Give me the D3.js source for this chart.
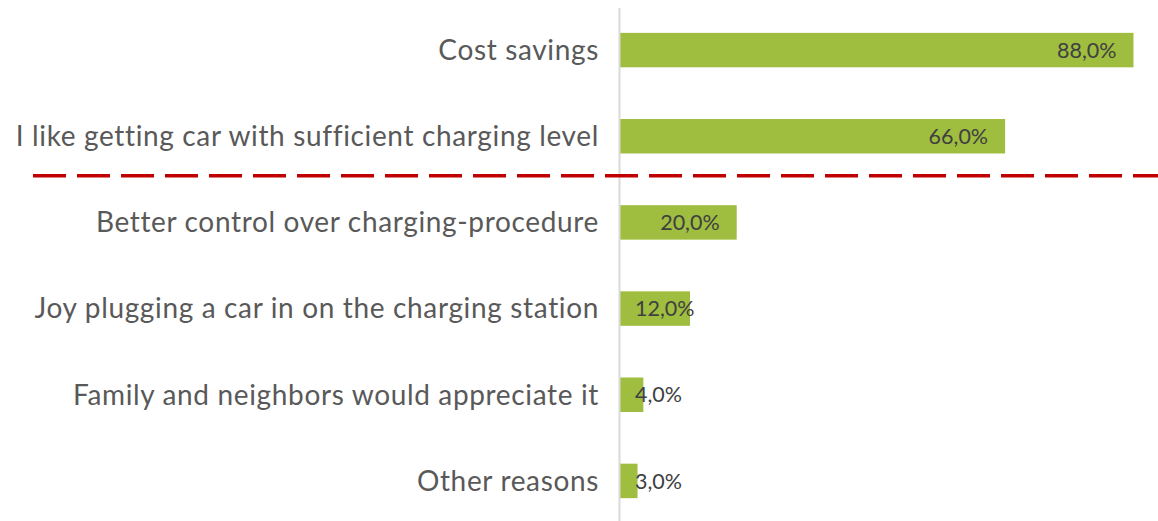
<!DOCTYPE html>
<html>
<head>
<meta charset="utf-8">
<script src="https://cdn.jsdelivr.net/npm/d3@7"></script>
<style>
  html, body { margin: 0; padding: 0; background: #fff; }
  svg { display: block; }
  text { font-variant-ligatures: none; }
</style>
</head>
<body>
<svg id="chart" width="1158" height="521"></svg>
<script>
const categories = [
  "Cost savings",
  "I like getting car with sufficient charging level",
  "Better control over charging-procedure",
  "Joy plugging a car in on the charging station",
  "Family and neighbors would appreciate it",
  "Other reasons"
]
const values = [88, 66, 20, 12, 4, 3]
// dashed red separator goes after this many bars
const cutAfter = 2

const width = 1158, height = 521

const svg = d3.select("#chart")

const x = d3.scaleLinear()
  .domain([0, 100])
  .range([620, 1203.5])

const y = d3.scaleBand()
  .domain(categories)
  .range([7, 524])
  .paddingInner(0.6)
  .paddingOuter(0.3)

const fmt = v => d3.format(".1f")(v).replace(".", ",") + "%"

// bars
svg.append("g")
  .selectAll("rect")
  .data(values)
  .enter().append("rect")
    .attr("x", x(0))
    .attr("y", (d, i) => y(categories[i]))
    .attr("width", d => x(d) - x(0))
    .attr("height", y.bandwidth())
    .attr("fill", "#9fbd3f")

// vertical axis line
svg.append("line")
  .attr("x1", x(0) - 0.5).attr("x2", x(0) - 0.5)
  .attr("y1", 8).attr("y2", height)
  .attr("stroke", "#d9d9d9")
  .attr("stroke-width", 2)

// category labels
svg.append("g")
  .attr("font-family", "Lato, sans-serif")
  .attr("font-size", 28)
  .attr("letter-spacing", 0.65)
  .attr("fill", "#595959")
  .attr("text-anchor", "end")
  .selectAll("text")
  .data(categories)
  .enter().append("text")
    .attr("x", x(0) - 21)
    .attr("y", d => y(d) + y.bandwidth() / 2)
    .attr("dy", "0.35em")
    .text(d => d)

// value labels (inside end, but not left of the bar start)
const vl = svg.append("g")
  .attr("font-family", "Lato, sans-serif")
  .attr("font-size", 21.5)
  .attr("fill", "#404040")
  .selectAll("text")
  .data(values)
  .enter().append("text")
    .attr("y", (d, i) => y(categories[i]) + y.bandwidth() / 2)
    .attr("dy", "0.36em")
    .text(d => fmt(d))

vl.attr("x", function(d) {
  const w = this.getComputedTextLength()
  return Math.max(x(d) - 17 - w, x(0) + 15)
})

// dashed separator
const sepY = y(categories[cutAfter]) - y.step() * y.paddingInner() / 2 - 3.5
svg.append("line")
  .attr("x1", 33).attr("x2", width)
  .attr("y1", sepY).attr("y2", sepY)
  .attr("stroke", "#c00000")
  .attr("stroke-width", 3.5)
  .attr("stroke-dasharray", "33,11")
</script>
</body>
</html>
